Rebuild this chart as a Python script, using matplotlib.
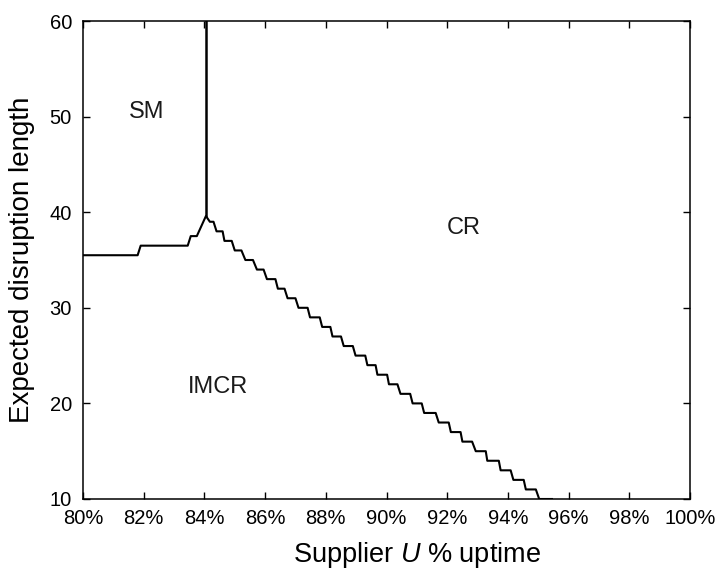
import matplotlib.pyplot as plt
from matplotlib.ticker import FuncFormatter


# =====================================================
# Data
# =====================================================

# left part of the boundary (SM / IMCR), up to the peak at 84%
left_x = [80.0, 81.80, 81.90, 83.45, 83.55, 83.75, 84.05]
left_y = [35.5, 35.5, 36.5, 36.5, 37.5, 37.5, 39.6]

# vertical SM / CR boundary
vert_x = [84.05, 84.05]
vert_y = [39.6, 60.0]

# staircase IMCR / CR boundary: one flat step per level
step_level = [39, 38, 37, 36, 35, 34, 33, 32, 31, 30,
              29, 28, 27, 26, 25, 24, 23, 22, 21, 20,
              19, 18, 17, 16, 15, 14, 13, 12, 11, 10]
step_start = [84.18, 84.40, 84.66, 85.00, 85.35, 85.73, 86.06, 86.42, 86.74, 87.10,
              87.48, 87.88, 88.22, 88.59, 88.98, 89.37, 89.70, 90.08, 90.46, 90.86,
              91.24, 91.72, 92.12, 92.50, 92.94, 93.32, 93.76, 94.18, 94.59, 95.03]
step_end = [84.30, 84.60, 84.90, 85.22, 85.60, 85.95, 86.34, 86.64, 87.00, 87.40,
            87.80, 88.15, 88.50, 88.89, 89.30, 89.64, 90.02, 90.36, 90.78, 91.16,
            91.62, 92.05, 92.44, 92.82, 93.27, 93.70, 94.09, 94.52, 94.92, 95.45]

region_labels = ["SM", "CR", "IMCR"]
region_x = [82.1, 92.55, 84.45]
region_y = [50.5, 38.3, 21.7]

x_ticks = [80, 82, 84, 86, 88, 90, 92, 94, 96, 98, 100]
y_ticks = [10, 20, 30, 40, 50, 60]


# =====================================================
# Figure
# =====================================================

plt.rcParams["font.family"] = ["Liberation Sans", "DejaVu Sans"]
plt.rcParams["mathtext.fontset"] = "custom"
plt.rcParams["mathtext.it"] = "Liberation Sans:italic"
plt.rcParams["mathtext.rm"] = "Liberation Sans"

fig = plt.figure(figsize=(7.23, 5.71), dpi=100)
ax = fig.add_axes([0.1148, 0.1261, 0.8396, 0.8371])

stair_x = list(left_x)
stair_y = list(left_y)
for lvl, s, e in zip(step_level, step_start, step_end):
    stair_x += [s, e]
    stair_y += [lvl, lvl]

ax.plot(stair_x, stair_y, color="black", linewidth=1.5)
ax.plot(vert_x, vert_y, color="black", linewidth=1.8)

for lab, x, y in zip(region_labels, region_x, region_y):
    ax.text(x, y, lab, fontsize=17, ha="center", va="center", color="#1a1a1a")

ax.set_xlim(80, 100)
ax.set_ylim(10, 60)
ax.set_xticks(x_ticks)
ax.set_yticks(y_ticks)
ax.xaxis.set_major_formatter(FuncFormatter(lambda v, p: f"{v:.0f}%"))

ax.tick_params(direction="in", length=5, width=1, labelsize=14.5,
               top=True, right=True)
ax.tick_params(axis="x", pad=7)
ax.tick_params(axis="y", pad=8)
for side in ax.spines.values():
    side.set_linewidth(1.1)

ax.set_xlabel("Supplier $\\it{U}$ % uptime", fontsize=19.5, va="center")
ax.set_ylabel("Expected disruption length", fontsize=20, va="center")
ax.xaxis.set_label_coords(0.55, -0.117)
ax.yaxis.set_label_coords(-0.101, 0.5)

plt.savefig("out.png", dpi=100)
plt.close()
